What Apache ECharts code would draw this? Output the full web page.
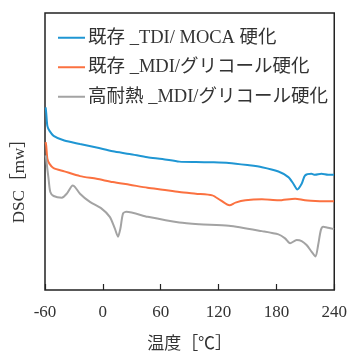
<!DOCTYPE html>
<html>
<head>
<meta charset="utf-8">
<script src="https://cdn.jsdelivr.net/npm/echarts@6/dist/echarts.min.js"></script>
<style>html,body{margin:0;padding:0;background:#fff;}#c{width:350px;height:358px;}</style>
</head>
<body>
<div id="c"></div>
<script>
var seriesNames = ['既存 _TDI/ MOCA 硬化', '既存 _MDI/グリコール硬化', '高耐熱 _MDI/グリコール硬化'];
var xTicks = [-60, 0, 60, 120, 180, 240];
// [temperature °C, DSC signal (arbitrary units)]
var blueData = [[-59.3,184],[-58.7,178],[-57.5,165],[-55.3,160.3],[-51.1,155.3],[-40,150.5],[-23.7,147],[-6.5,143.5],[10.3,139.7],[27.8,137],[46.3,133.7],[61.7,132],[79.3,129.3],[96.4,128.8],[115,128.6],[130.7,128],[150,125.8],[165,123.7],[182.1,119.3],[192.4,113.7],[197.6,107],[201.7,101.3],[206.2,107],[209.7,115.3],[216.4,117],[220,116],[226.7,117],[233.6,116],[239.8,116]];
var orangeData = [[-59.3,149],[-58.7,145],[-57.5,132],[-55.3,127],[-51.1,122.7],[-40,119.5],[-23.7,114.7],[-6.5,112],[10.3,108.7],[27.8,106],[46.3,103],[62.1,101],[79.3,98.7],[96.4,97],[113.5,95.3],[122.2,90.3],[131.4,85.3],[137.6,88],[147.9,90.3],[165,91.3],[182.1,90.3],[199.4,92],[209.7,90.3],[225,89.5],[239.8,89.3]];
var grayData = [[-59.3,135.5],[-58.3,128],[-56.3,112],[-54.5,98.7],[-51.1,94.7],[-42.5,93],[-37.4,97],[-31.2,105.3],[-28.8,103.7],[-23.7,97],[-13.4,88.7],[-1.3,82],[7.2,73.7],[12.4,62],[15.7,53.7],[18.2,62],[20.9,77],[24.4,78.7],[46.6,73.7],[79.3,68],[100,66.3],[130.7,64.7],[165,59.3],[182.1,56],[189,52],[194.2,47],[201,50.3],[206.2,49.3],[211.3,45.3],[216.4,38.7],[220.6,33.7],[223.3,45.3],[226.1,60.3],[228.5,63.7],[233.6,62.7],[239.8,61.3]];

var colors = ['#1f96d3', '#fb7140', '#a3a3a3'];
var font = '"Liberation Serif", "Noto Sans CJK JP", serif';
var chart = echarts.init(document.getElementById('c'), null, {renderer: 'canvas'});
var datas = [blueData, orangeData, grayData];
chart.setOption({
  animation: false,
  color: colors,
  textStyle: {fontFamily: font, color: '#333'},
  grid: {left: 45, right: 14, top: 13, bottom: 66, show: true, borderColor: '#222', borderWidth: 1.5, backgroundColor: 'transparent'},
  legend: {
    orient: 'vertical', left: 53, top: 23.5, itemWidth: 27, itemHeight: 2, itemGap: 11,
    icon: 'rect',
    textStyle: {fontFamily: font, fontSize: 18.5, color: '#333', padding: [0,0,0,-2]},
    data: seriesNames
  },
  xAxis: {
    type: 'value', min: -60, max: 240, interval: 60,
    axisLine: {show: false},
    axisTick: {show: true, inside: true, length: 6, lineStyle: {color: '#222', width: 1.2}},
    splitLine: {show: false},
    axisLabel: {fontFamily: font, fontSize: 17, color: '#333', margin: 14,
      formatter: function (v) { return xTicks.indexOf(v) >= 0 ? String(v) : ''; }},
    name: '温度［℃］', nameLocation: 'middle', nameGap: 46,
    nameTextStyle: {fontFamily: font, fontSize: 17, color: '#333'}
  },
  yAxis: {
    type: 'value', min: 0, max: 279,
    axisLine: {show: false}, axisTick: {show: false}, axisLabel: {show: false}, splitLine: {show: false}
  },
  graphic: [{
    type: 'text', x: 20, y: 177, rotation: Math.PI / 2,
    style: {text: 'DSC［mw］', fontFamily: font, fontSize: 17, fill: '#333', align: 'center', verticalAlign: 'middle'}
  }],
  series: seriesNames.map(function (n, i) {
    return {name: n, type: 'line', data: datas[i], showSymbol: false, symbol: 'none', smooth: 0.25,
      lineStyle: {width: 2, color: colors[i]}, itemStyle: {color: colors[i]}};
  })
});
</script>
</body>
</html>
